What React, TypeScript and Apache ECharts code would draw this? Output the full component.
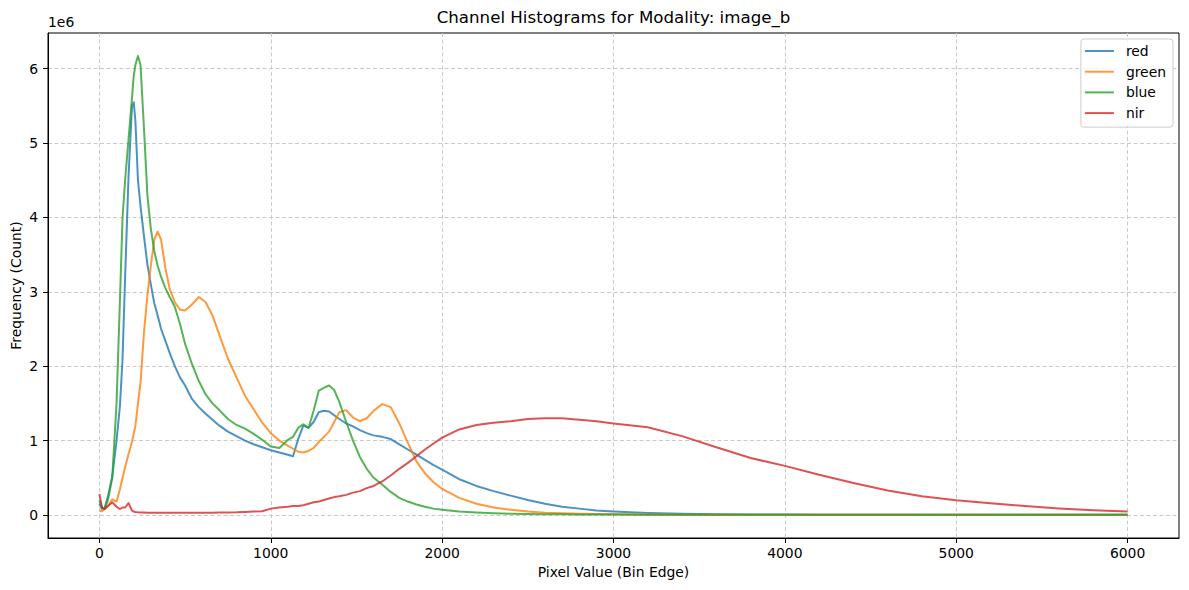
import React, { useEffect, useRef } from "react";
import * as echarts from "echarts";

// Bin edges (pixel values) shared by all four channel histograms
const binEdges = [
  0, 15, 30, 50, 75, 100, 120, 135, 150, 170, 190, 200, 210, 225, 240, 260, 280, 300,
  320, 340, 360, 385, 410, 440, 470, 500, 540, 580, 620, 660, 700, 750, 800, 850, 900,
  950, 1000, 1050, 1100, 1130, 1160, 1190, 1220, 1250, 1280, 1310, 1340, 1370, 1400,
  1440, 1480, 1520, 1560, 1600, 1650, 1700, 1750, 1800, 1850, 1900, 1950, 2000, 2100,
  2200, 2300, 2400, 2500, 2600, 2700, 2800, 2900, 3000, 3200, 3400, 3600, 3800, 4000,
  4200, 4400, 4600, 4800, 5000, 5200, 5400, 5600, 5800, 6000,
];

// Counts per bin edge, in millions (axis offset 1e6)
const redCounts = [
  0.15, 0.08, 0.09, 0.25, 0.52, 1.0, 1.47, 2.1, 3.2, 4.55, 5.5, 5.55, 5.3, 4.5, 4.15, 3.75,
  3.37, 3.1, 2.85, 2.68, 2.5, 2.34, 2.18, 2.0, 1.85, 1.74, 1.56, 1.45, 1.36, 1.28, 1.2,
  1.12, 1.06, 1.0, 0.95, 0.91, 0.87, 0.84, 0.81, 0.79, 1.02, 1.2, 1.17, 1.25, 1.38, 1.4,
  1.39, 1.34, 1.29, 1.23, 1.19, 1.14, 1.1, 1.07, 1.05, 1.02, 0.95, 0.88, 0.81, 0.74, 0.67,
  0.61, 0.48, 0.39, 0.32, 0.26, 0.2, 0.15, 0.11, 0.085, 0.06, 0.045, 0.025, 0.015, 0.01,
  0.007, 0.005, 0.004, 0.003, 0.003, 0.002, 0.002, 0.002, 0.001, 0.001, 0.001, 0.001,
];

const greenCounts = [
  0.06, 0.05, 0.08, 0.12, 0.21, 0.18, 0.35, 0.5, 0.64, 0.82, 0.98, 1.09, 1.2, 1.5, 1.78,
  2.45, 2.95, 3.35, 3.7, 3.81, 3.7, 3.32, 3.04, 2.86, 2.76, 2.75, 2.83, 2.93, 2.86, 2.68,
  2.42, 2.1, 1.85, 1.6, 1.42, 1.24, 1.1, 1.0, 0.93, 0.89, 0.85, 0.84, 0.86, 0.9, 0.98,
  1.05, 1.12, 1.25, 1.38, 1.41, 1.31, 1.26, 1.3, 1.4, 1.49, 1.45, 1.23, 0.97, 0.72, 0.56,
  0.44, 0.35, 0.23, 0.15, 0.1, 0.07, 0.045, 0.03, 0.022, 0.016, 0.012, 0.009, 0.006, 0.004,
  0.003, 0.002, 0.002, 0.002, 0.001, 0.001, 0.001, 0.001, 0.001, 0.001, 0.001, 0.001, 0.001,
];

const blueCounts = [
  0.2, 0.1, 0.08, 0.2, 0.5, 1.5, 2.9, 4.0, 4.5, 5.05, 5.6, 5.9, 6.05, 6.17, 6.05, 5.2, 4.3,
  3.85, 3.55, 3.35, 3.2, 3.05, 2.93, 2.8, 2.57, 2.3, 2.03, 1.8, 1.62, 1.5, 1.41, 1.29, 1.21,
  1.16, 1.09, 1.01, 0.92, 0.9, 1.01, 1.05, 1.17, 1.22, 1.17, 1.4, 1.67, 1.71, 1.74, 1.68,
  1.52, 1.25, 1.0, 0.78, 0.62, 0.5, 0.41, 0.31, 0.23, 0.18, 0.14, 0.11, 0.085, 0.07, 0.045,
  0.032, 0.022, 0.017, 0.013, 0.01, 0.008, 0.007, 0.006, 0.005, 0.004, 0.003, 0.002, 0.001,
  0.001, 0.001, 0.001, 0.001, 0.001, 0.001, 0.001, 0.001, 0.001, 0.001, 0.001,
];

const nirCounts = [
  0.28, 0.1, 0.08, 0.12, 0.17, 0.11, 0.08, 0.1, 0.1, 0.16, 0.06, 0.045, 0.04, 0.035, 0.033,
  0.032, 0.031, 0.03, 0.03, 0.03, 0.03, 0.03, 0.03, 0.03, 0.03, 0.029, 0.029, 0.03, 0.03,
  0.031, 0.032, 0.033, 0.035, 0.04, 0.045, 0.05, 0.085, 0.1, 0.11, 0.12, 0.12, 0.13, 0.15,
  0.17, 0.18, 0.2, 0.22, 0.24, 0.25, 0.27, 0.3, 0.32, 0.36, 0.39, 0.45, 0.53, 0.62, 0.7,
  0.79, 0.88, 0.96, 1.04, 1.15, 1.21, 1.24, 1.26, 1.29, 1.3, 1.3, 1.28, 1.26, 1.23, 1.18,
  1.06, 0.91, 0.765, 0.66, 0.54, 0.43, 0.33, 0.25, 0.197, 0.157, 0.12, 0.088, 0.062, 0.045,
];

const channelNames = ["red", "green", "blue", "nir"];
const channelCounts = [redCounts, greenCounts, blueCounts, nirCounts];
const channelColors = [
  "rgba(31,119,180,0.8)",
  "rgba(255,127,14,0.8)",
  "rgba(44,160,44,0.8)",
  "rgba(214,39,40,0.8)",
];

const xTicks = [0, 1000, 2000, 3000, 4000, 5000, 6000];
const yTicks = [0, 1, 2, 3, 4, 5, 6];

const FONT = "DejaVu Sans";

export default function App() {
  const ref = useRef<HTMLDivElement>(null);

  useEffect(() => {
    document.body.style.margin = "0";
    if (!ref.current) return;
    const chart = echarts.init(ref.current, undefined, { renderer: "svg" });

    const gridLine = {
      show: true,
      lineStyle: { color: "#cacaca", type: [4, 2.5], width: 1 },
    };

    chart.setOption({
      animation: false,
      backgroundColor: "#ffffff",
      textStyle: { fontFamily: FONT },
      grid: {
        left: 48,
        right: 10,
        top: 33,
        bottom: 52,
        show: true,
        borderColor: "#000",
        borderWidth: 1,
        outerBoundsMode: "none",
      },
      graphic: [
        {
          type: "text",
          x: 613.5,
          y: 9,
          style: {
            text: "Channel Histograms for Modality: image_b",
            fontFamily: FONT,
            fontSize: 16.67,
            fill: "#000",
            textAlign: "center",
          },
        },
        {
          type: "text",
          x: 48,
          y: 15,
          style: { text: "1e6", fontFamily: FONT, fontSize: 13.9, fill: "#000" },
        },
      ],
      legend: {
        orient: "vertical",
        right: 16,
        top: 39,
        icon: "rect",
        itemWidth: 29,
        itemHeight: 2,
        itemGap: 4.7,
        padding: [4, 7, 6, 4],
        backgroundColor: "rgba(255,255,255,0.8)",
        borderColor: "#cccccc",
        borderWidth: 1,
        borderRadius: 3,
        data: channelNames,
        textStyle: {
          fontFamily: FONT,
          fontSize: 13.9,
          color: "#000",
          lineHeight: 16,
          padding: [0, 0, 0, 7],
        },
      },
      xAxis: {
        type: "value",
        min: -300,
        max: 6300,
        name: "Pixel Value (Bin Edge)",
        nameLocation: "middle",
        nameGap: 27,
        nameTextStyle: { fontFamily: FONT, fontSize: 13.9, color: "#000" },
        axisLine: { show: true, onZero: false, lineStyle: { color: "#000", width: 1 } },
        axisTick: {
          show: true,
          length: 5,
          inside: false,
          customValues: xTicks,
          lineStyle: { color: "#000", width: 1 },
        },
        axisLabel: {
          customValues: xTicks,
          fontFamily: FONT,
          fontSize: 13.9,
          color: "#000",
          margin: 8,
          formatter: (v: number) => String(v),
        },
        splitLine: gridLine,
      },
      yAxis: {
        type: "value",
        min: -0.31,
        max: 6.48,
        name: "Frequency (Count)",
        nameLocation: "middle",
        nameGap: 25,
        nameMoveOverlap: false,
        nameTextStyle: { fontFamily: FONT, fontSize: 13.9, color: "#000" },
        axisLine: { show: true, onZero: false, lineStyle: { color: "#000", width: 1 } },
        axisTick: {
          show: true,
          length: 5,
          inside: false,
          customValues: yTicks,
          lineStyle: { color: "#000", width: 1 },
        },
        axisLabel: {
          customValues: yTicks,
          fontFamily: FONT,
          fontSize: 13.9,
          color: "#000",
          margin: 10,
          formatter: (v: number) => String(Math.round(v)),
        },
        splitLine: gridLine,
      },
      series: channelNames.map((name, i) => ({
        name,
        type: "line",
        symbol: "none",
        showSymbol: false,
        color: channelColors[i],
        lineStyle: { width: 2, color: channelColors[i], join: "round" },
        data: binEdges.map((x, j) => [x, channelCounts[i][j]]),
      })),
    });

    return () => chart.dispose();
  }, []);

  return (
    <div
      ref={ref}
      style={{ position: "absolute", left: 0, top: 0, width: 1189, height: 590 }}
    />
  );
}
